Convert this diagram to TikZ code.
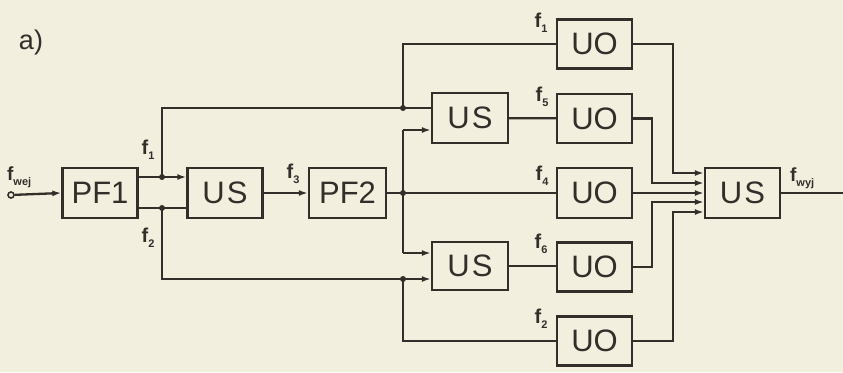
\documentclass[tikz,border=0pt]{standalone}
\usepackage{fontspec}
\setmainfont{Liberation Sans}
\usetikzlibrary{arrows.meta,calc}
\definecolor{paper}{RGB}{243,239,223}
\definecolor{ink}{RGB}{50,46,42}
\newcommand\fsub[2][20]{\fontsize{#1}{#1}\selectfont f\raisebox{-5pt}{\fontsize{11}{11}\selectfont #2}}
\begin{document}
\begin{tikzpicture}[x=1pt,y=-1pt, line width=2.3pt, color=ink,
  blk/.style={draw=ink, line width=2.3pt, minimum width=75pt, minimum height=50pt,
    inner sep=0pt, font=\fontsize{31}{31}\selectfont, text=ink},
  lab/.style={text=ink, inner sep=0pt, font=\bfseries},
  arr/.style={-{Latex[length=9pt,width=6pt]}},
  jdot/.style={circle, fill=ink, inner sep=0pt, minimum size=6pt},
  term/.style={circle, draw=ink, line width=1.6pt, inner sep=0pt, minimum size=6pt}]
\fill[paper] (0,0) rectangle (843,372);
\useasboundingbox (0,0) rectangle (843,372);

% blocks
\node[blk] (pf1) at (100,193) {PF1};
\node[blk] (us1) at (225,193) {U\kern2pt S};
\node[blk, minimum width=77pt] (pf2) at (347.5,193) {PF2};
\node[blk, minimum width=76pt] (us2) at (470,118) {U\kern2pt S};
\node[blk, minimum width=76pt, minimum height=48pt] (us3) at (470,266) {U\kern2pt S};
\node[blk, minimum height=49pt] (uo1) at (594.5,44) {UO};
\node[blk, minimum height=49pt] (uo2) at (594.5,118.5) {UO};
\node[blk] (uo3) at (594.5,193) {UO};
\node[blk, minimum height=49pt] (uo4) at (594.5,267) {UO};
\node[blk, minimum height=49pt] (uo5) at (594.5,341) {UO};
\node[blk] (us4) at (742.5,193) {U\kern2pt S};

% labels
\node[lab, font=\fontsize{27}{27}\selectfont] (la) at (31,43) {a)};
\node[lab, anchor=south west] (lin) at (6,189) {\fsub[19]{wej}};
\node[lab] (lf1) at (148,150) {\fsub{1}};
\node[lab] (lf2) at (148,238) {\fsub{2}};
\node[lab] (lf3) at (293,174) {\fsub{3}};
\node[lab] (lf1b) at (541,23) {\fsub{1}};
\node[lab] (lf5) at (542,97) {\fsub{5}};
\node[lab] (lf4) at (542,176) {\fsub{4}};
\node[lab] (lf6) at (541,244) {\fsub{6}};
\node[lab] (lf2b) at (541,319) {\fsub{2}};
\node[lab, anchor=south west] (lout) at (789,190) {\fsub[19]{wyj}};

% coordinates
\node[term] (tin) at (11,195) {};
\coordinate (out) at (843,193);
\coordinate (j1) at (162,177);
\coordinate (j2) at (162,208);
\coordinate (t1) at (162,108);
\coordinate (t2) at (162,279);
\coordinate (j3) at (403,108);
\coordinate (j4) at (403,193);
\coordinate (j5) at (403,279);
\coordinate (c1) at (403,44);
\coordinate (c2) at (403,130);
\coordinate (c3) at (403,253);
\coordinate (c4) at (403,341);
\coordinate (k1) at (673,173);
\coordinate (k2) at (652,183);
\coordinate (k4) at (652,202);
\coordinate (k5) at (673,212);

% connectors
\draw[arr] (tin) -- (pf1.west);
\draw (pf1.east|-j1) -- (j1);
\draw[arr] (j1) -- (us1.west|-j1);
\draw (pf1.east|-j2) -- (j2) -- (us1.west|-j2);
\draw (j1) -- (t1) -- (j3) -- (us2.west|-j3);
\draw (j3) -- (c1) -- (uo1.west|-c1);
\draw[arr] (us1) -- (pf2);
\draw (pf2) -- (j4) -- (uo3);
\draw (c2) -- (c3);
\draw[arr] (c2) -- (us2.west|-c2);
\draw[arr] (c3) -- (us3.west|-c3);
\draw (j2) -- (t2) -- (j5);
\draw[arr] (j5) -- (us3.west|-j5);
\draw (j5) -- (c4) -- (uo5.west|-c4);
\draw (us2) -- (uo2);
\draw (us3) -- (uo4.west|-us3);
\draw[arr] (uo1.east) -| (k1) -- (us4.west|-k1);
\draw[arr] (uo2.east) -| (k2) -- (us4.west|-k2);
\draw[arr] (uo3) -- (us4);
\draw[arr] (uo4.east) -| (k4) -- (us4.west|-k4);
\draw[arr] (uo5.east) -| (k5) -- (us4.west|-k5);
\draw (us4) -- (out);

% junction dots
\foreach \p in {j1,j2,j3,j4,j5} \node[jdot] at (\p) {};
\end{tikzpicture}
\end{document}
